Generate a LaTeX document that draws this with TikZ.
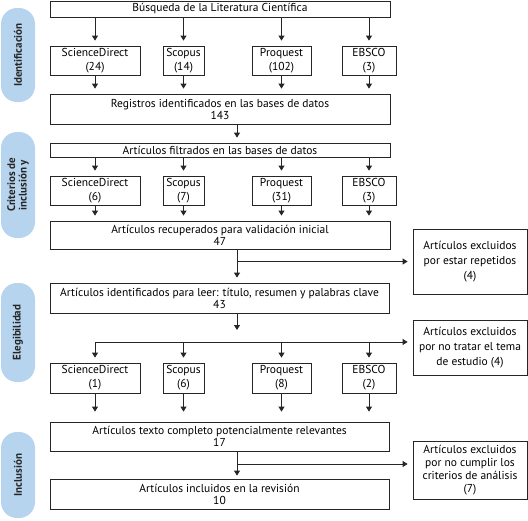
\documentclass[tikz,border=0pt]{standalone}
\usepackage{fontspec}
\setmainfont{PT Sans}
\usepackage{xcolor}
\usetikzlibrary{arrows.meta,positioning}

\definecolor{pillblue}{HTML}{B6D4EE}
\definecolor{inkgray}{HTML}{262626}

\tikzset{
  box/.style={draw=inkgray, line width=0.8pt, fill=white, inner sep=1pt,
    align=center, text=black, font=\fontsize{11.5}{14}\selectfont},
  srcbox/.style={box, minimum height=29pt},
  widebox/.style={box, minimum width=340pt, font=\fontsize{11.5}{12}\selectfont},
  exclbox/.style={box, minimum width=114pt, font=\fontsize{11.5}{15}\selectfont},
  pill/.style={fill=pillblue, rounded corners=16pt, minimum height=34pt,
    rotate=90, align=center, text=inkgray,
    font=\bfseries\fontsize{11}{11.5}\selectfont},
  arr/.style={draw=inkgray, line width=0.8pt,
    -{Triangle[length=5pt,width=6pt]}, shorten >=5pt},
}

\begin{document}
\begin{tikzpicture}[x=1pt,y=-1pt]
\useasboundingbox (0,0) rectangle (528,520);

% Phase labels
\node[pill, minimum width=94pt]  (phase1) at (18,55)    {Identificación};
\node[pill, minimum width=106pt] (phase2) at (18,185)   {Criterios de\\inclusión y};
\node[pill, minimum width=99pt]  (phase3) at (18,332.5) {Elegibilidad};
\node[pill, minimum width=86pt]  (phase4) at (18,475)   {Inclusión};

% Search
\node[widebox, minimum height=16pt] (search) at (220,9) {Búsqueda de la Literatura Científica};

% Databases (identification)
\node[srcbox, minimum width=90pt] (sd1) at (95,60.5)    {ScienceDirect\\(24)};
\node[srcbox, minimum width=41pt] (sc1) at (183.5,60.5) {Scopus\\(14)};
\node[srcbox, minimum width=59pt] (pq1) at (281.5,60.5) {Proquest\\(102)};
\node[srcbox, minimum width=54pt] (eb1) at (369,60.5)   {EBSCO\\(3)};

\node[widebox, minimum height=30pt] (reg) at (220,109) {Registros identificados en las bases de datos\\143};
\node[widebox, minimum height=14pt] (filt) at (220,150) {Artículos filtrados en las bases de datos};

% Databases (inclusion criteria)
\node[srcbox, minimum width=90pt] (sd2) at (95,190.5)    {ScienceDirect\\(6)};
\node[srcbox, minimum width=41pt] (sc2) at (183.5,190.5) {Scopus\\(7)};
\node[srcbox, minimum width=59pt] (pq2) at (281.5,190.5) {Proquest\\(31)};
\node[srcbox, minimum width=54pt] (eb2) at (369,190.5)   {EBSCO\\(3)};

\node[widebox, minimum height=28pt] (recup) at (220,235) {Artículos recuperados para validación inicial\\47};
\node[exclbox, minimum height=65pt] (excl1) at (470,261.5) {Artículos excluidos\\por estar repetidos\\(4)};

% Eligibility
\node[widebox, minimum width=339pt, minimum height=30pt] (ident) at (219.5,298)
  {Artículos identificados para leer: título, resumen y palabras clave\\43};
\node[exclbox, minimum height=55pt] (excl2) at (470,347.5) {Artículos excluidos\\por no tratar el tema\\de estudio (4)};

\node[srcbox, minimum width=90pt, minimum height=30pt] (sd3) at (95,378)    {ScienceDirect\\(1)};
\node[srcbox, minimum width=41pt, minimum height=30pt] (sc3) at (183.5,378) {Scopus\\(6)};
\node[srcbox, minimum width=59pt, minimum height=30pt] (pq3) at (281.5,378) {Proquest\\(8)};
\node[srcbox, minimum width=54pt, minimum height=30pt] (eb3) at (369,378)   {EBSCO\\(2)};

% Inclusion
\node[widebox, minimum width=339pt, minimum height=29pt] (texto) at (219.5,436.5)
  {Artículos texto completo potencialmente relevantes\\17};
\node[exclbox, minimum height=58pt, inner ysep=3pt, font=\fontsize{11.5}{13}\selectfont] (excl3) at (470,470.5)
  {Artículos excluidos\\por no cumplir los\\criterios de análisis\\(7)};
\node[widebox, minimum width=339pt, minimum height=30pt] (incl) at (219.5,494) {Artículos incluidos en la revisión\\10};

% Helper points
\coordinate (spine) at (237,0);
\coordinate (split) at (237,342);
\coordinate (fork) at (237,464);

% Search to databases
\draw[arr] (sd1 |- search.south) -- (sd1);
\draw[arr] (sc1 |- search.south) -- (sc1);
\draw[arr] (pq1 |- search.south) -- (pq1);
\draw[arr] (eb1 |- search.south) -- (eb1);

% Databases to records
\draw[arr] (sd1) -- (sd1 |- reg.north);
\draw[arr] (sc1) -- (sc1 |- reg.north);
\draw[arr] (pq1) -- (pq1 |- reg.north);
\draw[arr] (eb1) -- (eb1 |- reg.north);

\draw[arr] (reg.south -| spine) -- (filt.north -| spine);

% Filtered to databases
\draw[arr] (sd2 |- filt.south) -- (sd2);
\draw[arr] (sc2 |- filt.south) -- (sc2);
\draw[arr] (pq2 |- filt.south) -- (pq2);
\draw[arr] (eb2 |- filt.south) -- (eb2);

\draw[arr] (sd2) -- (sd2 |- recup.north);
\draw[arr] (sc2) -- (sc2 |- recup.north);
\draw[arr] (pq2) -- (pq2 |- recup.north);
\draw[arr] (eb2) -- (eb2 |- recup.north);

% Repeated articles
\draw[arr] (recup.south -| spine) -- (ident.north -| spine);
\draw[arr] (spine |- excl1.west) -- (excl1.west);

% Screening by title and abstract
\draw[arr, shorten >=12pt] (ident.south -| spine) -- (split);
\draw[arr] (sd3 |- split) -- (split -| excl2.west);
\draw[arr] (sd3 |- split) -- (sd3);
\draw[arr] (sc3 |- split) -- (sc3);
\draw[arr] (pq3 |- split) -- (pq3);
\draw[arr] (eb3 |- split) -- (eb3);

\draw[arr, shorten >=10pt] (sd3) -- (sd3 |- texto.north);
\draw[arr, shorten >=10pt] (sc3) -- (sc3 |- texto.north);
\draw[arr, shorten >=10pt] (pq3) -- (pq3 |- texto.north);
\draw[arr, shorten >=10pt] (eb3) -- (eb3 |- texto.north);

% Full text review
\draw[arr, shorten >=3pt] (texto.south -| spine) -- (incl.north -| spine);
\draw[arr] (fork) -- (fork -| excl3.west);
\end{tikzpicture}
\end{document}
